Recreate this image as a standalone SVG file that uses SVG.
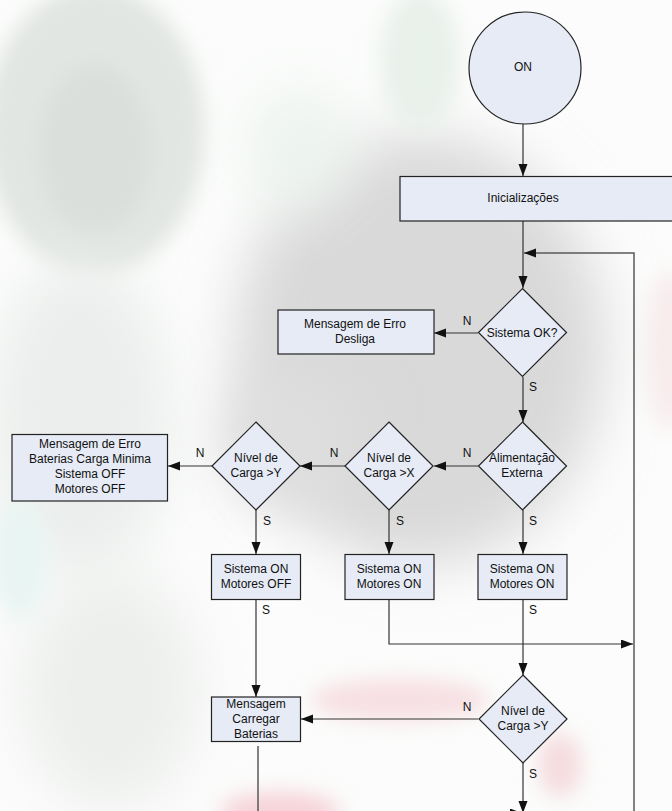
<svg xmlns="http://www.w3.org/2000/svg" width="672" height="811" viewBox="0 0 672 811">
  <defs>
    <filter id="blur" x="-50%" y="-50%" width="200%" height="200%">
      <feGaussianBlur stdDeviation="28"/>
    </filter>
    <filter id="blurS" x="-50%" y="-50%" width="200%" height="200%">
      <feGaussianBlur stdDeviation="10"/>
    </filter>
    <marker id="arr" markerUnits="userSpaceOnUse" markerWidth="13" markerHeight="10" refX="12" refY="4.5" orient="auto">
      <path d="M0,0 L12,4.5 L0,9 z" fill="#111"/>
    </marker>
    <style>
      .shape { fill: #e6ebf5; stroke: #222; stroke-width: 1.2; }
      .conn { fill: none; stroke: #333; stroke-width: 1.2; }
      .long { fill: none; stroke: #5a5a5a; stroke-width: 1.5; }
      text { font-family: "Liberation Sans", Arial, sans-serif; font-size: 12px; fill: #111; text-anchor: middle; }
    </style>
  </defs>

  <g id="background">
    <rect x="0" y="0" width="672" height="811" fill="#fbfcfb"/>
    <ellipse cx="420" cy="350" rx="185" ry="215" fill="#d9d9d9" filter="url(#blur)"/>
    <ellipse cx="290" cy="440" rx="70" ry="70" fill="#dedede" filter="url(#blur)"/>
    <ellipse cx="95" cy="130" rx="110" ry="145" fill="#e2e6e2" filter="url(#blurS)"/>
    <ellipse cx="95" cy="150" rx="55" ry="85" fill="#dadfdb" filter="url(#blurS)"/>
    <ellipse cx="80" cy="420" rx="90" ry="160" fill="#ebeeec" filter="url(#blur)"/>
    <ellipse cx="110" cy="690" rx="90" ry="120" fill="#edefed" filter="url(#blur)"/>
    <ellipse cx="20" cy="560" rx="30" ry="60" fill="#e9f5f3" filter="url(#blurS)"/>
    <ellipse cx="420" cy="60" rx="40" ry="70" fill="#e9f1eb" filter="url(#blurS)"/>
    <ellipse cx="300" cy="150" rx="50" ry="60" fill="#ecf3ee" filter="url(#blur)"/>
    <ellipse cx="400" cy="700" rx="90" ry="22" fill="#f7e0e3" filter="url(#blurS)"/>
    <ellipse cx="560" cy="765" rx="22" ry="32" fill="#f5dcdf" filter="url(#blurS)"/>
    <ellipse cx="280" cy="812" rx="60" ry="20" fill="#f6d3d9" filter="url(#blurS)"/>
    <ellipse cx="670" cy="350" rx="25" ry="80" fill="#f8eced" filter="url(#blurS)"/>
  </g>

  <g id="connectors">
    <path class="conn" d="M523,124 V176" marker-end="url(#arr)"/>
    <path class="conn" d="M523,221 V288" marker-end="url(#arr)"/>
    <path class="long" d="M634,811 V253 H524" marker-end="url(#arr)"/>
    <path class="conn" d="M478,333 H434" marker-end="url(#arr)"/>
    <path class="conn" d="M523,377 V422" marker-end="url(#arr)"/>
    <path class="conn" d="M478,466 H434" marker-end="url(#arr)"/>
    <path class="conn" d="M345,466 H300" marker-end="url(#arr)"/>
    <path class="conn" d="M212,466 H168" marker-end="url(#arr)"/>
    <path class="conn" d="M256,510 V554" marker-end="url(#arr)"/>
    <path class="conn" d="M389,510 V554" marker-end="url(#arr)"/>
    <path class="conn" d="M523,510 V554" marker-end="url(#arr)"/>
    <path class="conn" d="M389,599 V644 H633" marker-end="url(#arr)"/>
    <path class="conn" d="M523,599 V675" marker-end="url(#arr)"/>
    <path class="conn" d="M256,599 V697" marker-end="url(#arr)"/>
    <path class="conn" d="M478,719 H301" marker-end="url(#arr)"/>
    <path class="conn" d="M523,763 V813" marker-end="url(#arr)"/>
    <path class="long" d="M258,746 V813 H522" marker-end="url(#arr)"/>
    <text x="467" y="325">N</text>
    <text x="533" y="391">S</text>
    <text x="467" y="457">N</text>
    <text x="334" y="457">N</text>
    <text x="200" y="457">N</text>
    <text x="533" y="525">S</text>
    <text x="400" y="525">S</text>
    <text x="267" y="525">S</text>
    <text x="533" y="614">S</text>
    <text x="266" y="614">S</text>
    <text x="467" y="711">N</text>
    <text x="533" y="778">S</text>
  </g>

  <g id="on">
    <circle class="shape" cx="525" cy="68" r="56"/>
    <text x="523" y="71">ON</text>
  </g>

  <g id="inicializacoes">
    <rect class="shape" x="400" y="176.5" width="290" height="44.5"/>
    <text x="523" y="202">Inicializações</text>
  </g>

  <g id="sistema-ok">
    <path class="shape" d="M522.5,288.5 L566.5,332.5 L522.5,376.5 L478.5,332.5 z"/>
    <text x="522" y="337">Sistema OK?</text>
  </g>

  <g id="erro-desliga">
    <rect class="shape" x="278" y="310" width="156" height="44"/>
    <text x="355" y="328">Mensagem de Erro</text>
    <text x="355" y="343">Desliga</text>
  </g>

  <g id="alimentacao">
    <path class="shape" d="M522.5,422 L566.5,466 L522.5,510 L478.5,466 z"/>
    <text x="522" y="462">Alimentação</text>
    <text x="522" y="477">Externa</text>
  </g>

  <g id="nivel-x">
    <path class="shape" d="M389,422 L433,466 L389,510 L345,466 z"/>
    <text x="389" y="462">Nível de</text>
    <text x="389" y="477">Carga &gt;X</text>
  </g>

  <g id="nivel-y">
    <path class="shape" d="M256,422 L300,466 L256,510 L212,466 z"/>
    <text x="256" y="462">Nível de</text>
    <text x="256" y="477">Carga &gt;Y</text>
  </g>

  <g id="erro-baterias">
    <rect class="shape" x="12" y="434.5" width="155.5" height="66.5"/>
    <text x="90" y="447.5">Mensagem de Erro</text>
    <text x="90" y="462.5">Baterias Carga Minima</text>
    <text x="90" y="477.5">Sistema OFF</text>
    <text x="90" y="492.5">Motores OFF</text>
  </g>

  <g id="on-motores-off">
    <rect class="shape" x="211.5" y="554.5" width="89" height="45"/>
    <text x="256" y="573">Sistema ON</text>
    <text x="256" y="588">Motores OFF</text>
  </g>

  <g id="on-motores-on-1">
    <rect class="shape" x="345" y="554.5" width="89" height="45"/>
    <text x="389" y="573">Sistema ON</text>
    <text x="389" y="588">Motores ON</text>
  </g>

  <g id="on-motores-on-2">
    <rect class="shape" x="478" y="554.5" width="89" height="45"/>
    <text x="522" y="573">Sistema ON</text>
    <text x="522" y="588">Motores ON</text>
  </g>

  <g id="nivel-y-2">
    <path class="shape" d="M523,675 L567,719 L523,763 L479,719 z"/>
    <text x="523" y="715">Nível de</text>
    <text x="523" y="730">Carga &gt;Y</text>
  </g>

  <g id="carregar-baterias">
    <rect class="shape" x="211.5" y="697" width="89" height="44.5"/>
    <text x="256" y="707.5">Mensagem</text>
    <text x="256" y="722.5">Carregar</text>
    <text x="256" y="737.5">Baterias</text>
  </g>
</svg>
